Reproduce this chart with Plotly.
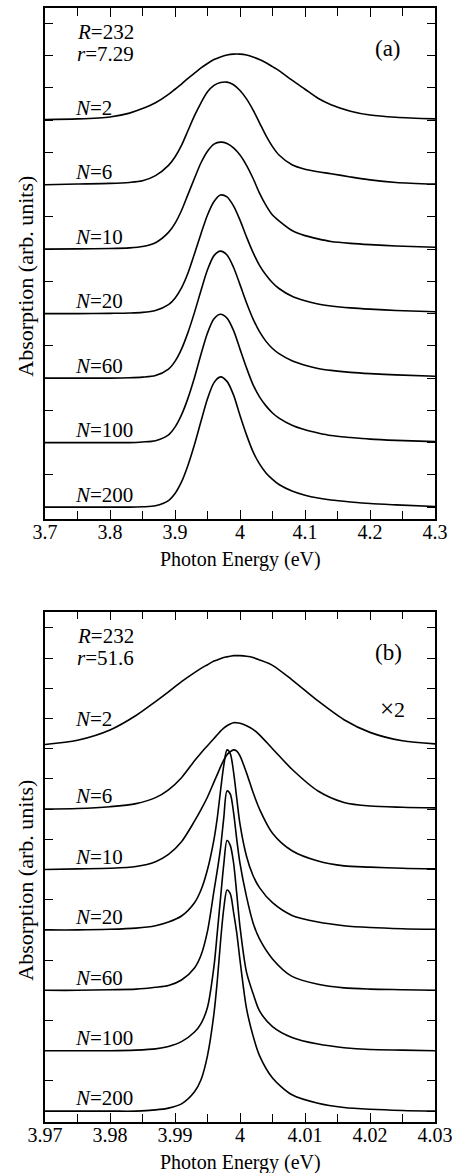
import plotly.graph_objects as go

# ---------------- Panel (a): R=232, r=7.29 ----------------
energy_a = [3.70, 3.75, 3.80, 3.83, 3.85, 3.87, 3.89, 3.90, 3.91, 3.92, 3.93, 3.94, 3.95,
            3.96, 3.97, 3.98, 3.99, 4.00, 4.01, 4.02, 4.03, 4.04, 4.05, 4.06, 4.08, 4.10,
            4.12, 4.14, 4.17, 4.20, 4.24, 4.30]

a_N2 = [0.01, 0.02, 0.05, 0.11, 0.18, 0.27, 0.40, 0.48, 0.56, 0.65, 0.73, 0.81, 0.88,
        0.94, 0.98, 1.01, 1.025, 1.025, 1.01, 0.98, 0.94, 0.89, 0.83, 0.77, 0.62, 0.48,
        0.34, 0.24, 0.14, 0.08, 0.045, 0.02]
a_N6 = [0.00, 0.01, 0.02, 0.035, 0.06, 0.14, 0.30, 0.43, 0.61, 0.84, 1.07, 1.27, 1.44,
        1.54, 1.585, 1.59, 1.55, 1.46, 1.33, 1.16, 0.96, 0.76, 0.59, 0.46, 0.31, 0.24,
        0.20, 0.17, 0.12, 0.075, 0.035, 0.01]
a_N10 = [0.00, 0.005, 0.01, 0.02, 0.04, 0.10, 0.26, 0.40, 0.60, 0.85, 1.10, 1.34, 1.52,
         1.63, 1.66, 1.64, 1.57, 1.46, 1.30, 1.10, 0.87, 0.68, 0.53, 0.44, 0.29, 0.21,
         0.16, 0.12, 0.09, 0.07, 0.05, 0.03]
a_N20 = [0.00, 0.00, 0.005, 0.01, 0.02, 0.05, 0.14, 0.24, 0.40, 0.63, 0.93, 1.24, 1.53,
         1.74, 1.84, 1.81, 1.67, 1.45, 1.19, 0.95, 0.75, 0.60, 0.48, 0.39, 0.27, 0.20,
         0.15, 0.12, 0.09, 0.07, 0.05, 0.03]
a_N60 = [0.00, 0.00, 0.00, 0.005, 0.015, 0.04, 0.14, 0.26, 0.45, 0.71, 1.02, 1.36, 1.68,
         1.90, 1.97, 1.91, 1.72, 1.45, 1.17, 0.92, 0.72, 0.57, 0.46, 0.38, 0.27, 0.20,
         0.15, 0.12, 0.09, 0.07, 0.05, 0.03]
a_N100 = [0.00, 0.00, 0.00, 0.00, 0.01, 0.03, 0.12, 0.24, 0.43, 0.69, 1.01, 1.37, 1.70,
          1.92, 1.99, 1.93, 1.74, 1.45, 1.16, 0.90, 0.71, 0.57, 0.46, 0.38, 0.27, 0.20,
          0.15, 0.11, 0.08, 0.055, 0.035, 0.015]
a_N200 = [0.00, 0.00, 0.00, 0.00, 0.005, 0.02, 0.10, 0.21, 0.39, 0.65, 0.97, 1.33, 1.68,
          1.93, 2.02, 1.95, 1.74, 1.42, 1.12, 0.86, 0.67, 0.53, 0.43, 0.35, 0.25, 0.185,
          0.14, 0.11, 0.08, 0.055, 0.035, 0.01]

# ---------------- Panel (b): R=232, r=51.6 ----------------
energy_b = [3.970, 3.975, 3.980, 3.984, 3.987, 3.989, 3.991, 3.993, 3.994, 3.995, 3.996,
            3.9965, 3.997, 3.9975, 3.998, 3.9985, 3.999, 3.9995, 4.000, 4.001, 4.002,
            4.003, 4.005, 4.008, 4.012, 4.016, 4.020, 4.025, 4.030]

b_N2 = [0.07, 0.14, 0.31, 0.55, 0.78, 0.94, 1.11, 1.26, 1.33, 1.39, 1.45,
        1.47, 1.49, 1.51, 1.52, 1.53, 1.54, 1.54, 1.54, 1.53, 1.51,
        1.47, 1.38, 1.14, 0.79, 0.48, 0.27, 0.13, 0.08]
b_N6 = [0.00, 0.01, 0.04, 0.09, 0.19, 0.32, 0.52, 0.80, 0.93, 1.05, 1.17,
        1.23, 1.29, 1.34, 1.38, 1.41, 1.43, 1.43, 1.42, 1.38, 1.32,
        1.23, 1.00, 0.66, 0.30, 0.11, 0.05, 0.03, 0.02]
b_N10 = [0.00, 0.01, 0.02, 0.05, 0.13, 0.25, 0.46, 0.80, 0.99, 1.20, 1.45,
         1.57, 1.70, 1.81, 1.90, 1.95, 1.98, 1.96, 1.88, 1.60, 1.28,
         1.00, 0.60, 0.31, 0.14, 0.06, 0.04, 0.02, 0.01]
b_N20 = [0.00, 0.00, 0.01, 0.03, 0.07, 0.13, 0.23, 0.45, 0.66, 1.00, 1.50,
         1.85, 2.30, 2.72, 2.98, 2.92, 2.62, 2.18, 1.75, 1.22, 0.90,
         0.70, 0.45, 0.24, 0.13, 0.07, 0.04, 0.02, 0.01]
b_N60 = [0.00, 0.00, 0.01, 0.02, 0.05, 0.08, 0.17, 0.37, 0.58, 0.98, 1.65,
         1.98, 2.35, 2.85, 3.30, 3.25, 2.95, 2.50, 2.10, 1.55, 1.12,
         0.85, 0.52, 0.23, 0.10, 0.04, 0.02, 0.01, 0.00]
b_N100 = [0.00, 0.00, 0.00, 0.01, 0.03, 0.07, 0.15, 0.31, 0.45, 0.72, 1.40,
          1.95, 2.52, 3.08, 3.48, 3.40, 3.12, 2.60, 2.05, 1.30, 0.95,
          0.66, 0.40, 0.22, 0.11, 0.05, 0.02, 0.01, 0.00]
b_N200 = [0.00, 0.00, 0.00, 0.00, 0.02, 0.05, 0.12, 0.32, 0.52, 0.92, 1.62,
          2.15, 2.80, 3.35, 3.66, 3.60, 3.30, 2.95, 2.50, 1.70, 1.25,
          0.92, 0.55, 0.27, 0.13, 0.06, 0.03, 0.01, 0.00]

N_labels = ["2", "6", "10", "20", "60", "100", "200"]
offsets = [6, 5, 4, 3, 2, 1, 0]

xtick_a = [3.7, 3.8, 3.9, 4.0, 4.1, 4.2, 4.3]
xtick_a_text = ["3.7", "3.8", "3.9", "4", "4.1", "4.2", "4.3"]
xtick_b = [3.97, 3.98, 3.99, 4.00, 4.01, 4.02, 4.03]
xtick_b_text = ["3.97", "3.98", "3.99", "4", "4.01", "4.02", "4.03"]

curves_a = [a_N2, a_N6, a_N10, a_N20, a_N60, a_N100, a_N200]
curves_b = [b_N2, b_N6, b_N10, b_N20, b_N60, b_N100, b_N200]

FONT = "Liberation Serif"

fig = go.Figure()
for ys, off, lab in zip(curves_a, offsets, N_labels):
    fig.add_trace(go.Scatter(x=energy_a, y=[v + off for v in ys], mode="lines",
                             line=dict(color="black", width=1.6, shape="spline", smoothing=0.8),
                             xaxis="x", yaxis="y", showlegend=False, hoverinfo="skip",
                             name="N=" + lab))
for ys, off, lab in zip(curves_b, offsets, N_labels):
    fig.add_trace(go.Scatter(x=energy_b, y=[v + off for v in ys], mode="lines",
                             line=dict(color="black", width=1.6, shape="spline", smoothing=0.8),
                             xaxis="x2", yaxis="y2", showlegend=False, hoverinfo="skip",
                             name="N=" + lab))

def xaxis_style(rng, vals, text, minor_dtick, anchor):
    return dict(domain=[0, 1], range=rng, anchor=anchor, tickvals=vals, ticktext=text,
                showline=True, linecolor="black", linewidth=1.6, mirror="allticks",
                ticks="inside", tickcolor="black", tickwidth=1.3, ticklen=9,
                minor=dict(dtick=minor_dtick, tick0=rng[0], ticks="inside", ticklen=8,
                           tickcolor="black", tickwidth=1.3),
                showgrid=False, zeroline=False, ticklabelstandoff=-6,
                tickfont=dict(family=FONT, size=20, color="black"))

def yaxis_style(dom, rng, nticks, anchor):
    return dict(domain=dom, range=rng, anchor=anchor,
                tickvals=[i * 0.5 for i in range(nticks)], showticklabels=False,
                showline=True, linecolor="black", linewidth=1.6, mirror="allticks",
                ticks="inside", tickcolor="black", tickwidth=1.3, ticklen=8,
                showgrid=False, zeroline=False)

fig.update_layout(
    width=459, height=1173,
    margin=dict(l=45, r=20, t=6, b=51),
    paper_bgcolor="white", plot_bgcolor="white",
    xaxis=xaxis_style([3.7, 4.3], xtick_a, xtick_a_text, 0.05, "y"),
    yaxis=yaxis_style([0.5412, 1], [-0.186, 7.74], 16, "x"),
    xaxis2=xaxis_style([3.97, 4.03], xtick_b, xtick_b_text, 0.005, "y2"),
    yaxis2=yaxis_style([0, 0.4582], [-0.18, 8.27], 17, "x2"),
)

anns = []
def txt(x, y, s, xref="paper", yref="paper", xanchor="left", size=21, angle=0):
    anns.append(dict(x=x, y=y, xref=xref, yref=yref, text=s, showarrow=False,
                     xanchor=xanchor, yanchor="middle", textangle=angle,
                     font=dict(family=FONT, size=size, color="black")))

# N labels
for off, lab in zip(offsets, N_labels):
    txt(3.7426, off + 0.19, "<i>N</i>=" + lab, xref="x", yref="y")
    dy = 0.49 if lab == "2" else 0.21
    txt(3.97426, off + dy, "<i>N</i>=" + lab, xref="x2", yref="y2")

# parameters
txt(0.0761, 0.9785, "<i>R</i>=232")
txt(0.0761, 0.9588, "<i>r</i>=7.29")
txt(0.0761, 0.4364, "<i>R</i>=232")
txt(0.0761, 0.4167, "<i>r</i>=51.6")
txt(0.8807, 0.9633, "(a)", xanchor="center", size=23)
txt(0.8807, 0.4211, "(b)", xanchor="center", size=23)
txt(0.8909, 0.3710, "<span style='font-size:25px'>×</span>2", xanchor="center", size=22)

# axis titles
txt(0.5013, 0.5045, "Photon Energy (eV)", xanchor="center", size=20)
txt(0.5013, -0.0367, "Photon Energy (eV)", xanchor="center", size=20)
txt(-0.0508, 0.759, "Absorption (arb. units)", xanchor="center", size=22, angle=-90)
txt(-0.0508, 0.2168, "Absorption (arb. units)", xanchor="center", size=22, angle=-90)

fig.update_layout(annotations=anns)
fig.write_html("out.html", config={"displayModeBar": False},
               post_script="document.body.style.margin='0px';")
